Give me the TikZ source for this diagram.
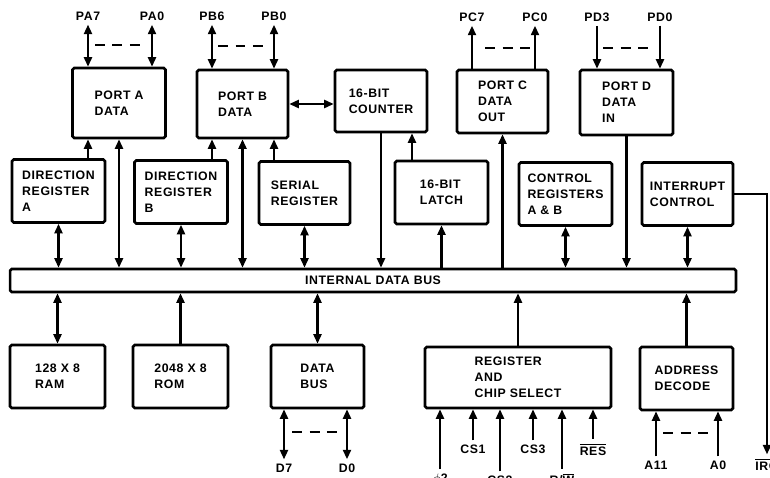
\documentclass[tikz,border=0pt]{standalone}
\usepackage{fontspec}
\usetikzlibrary{arrows.meta,calc}
\newfontfamily\blkfont{Liberation Sans}[LetterSpace=5]
\newcommand{\blkfnt}{\blkfont\bfseries\fontsize{7}{9}\selectfont}
\tikzset{
  >={Triangle[length=1.9mm,width=1.6mm]},
  blk/.style={draw, line width=1.5pt, rounded corners=1pt, align=left,
              minimum width=1.86cm, minimum height=1.26cm, inner sep=2pt, font=\blkfnt},
  busbar/.style={draw, line width=1.5pt, rounded corners=1pt, minimum width=14.52cm,
              minimum height=0.46cm, inner sep=0pt, font=\blkfnt},
  pinlbl/.style={inner sep=1pt, outer sep=1.5pt, font=\blkfnt},
  sig/.style={line width=1.25pt},
  dashgap/.style={line width=0.9pt, dash pattern=on 2mm off 1.5mm},
}

\begin{document}
\begin{tikzpicture}[x=0.02cm,y=-0.02cm]
  \fill[white] (0,0) rectangle (770,477);
  \useasboundingbox (0,0) rectangle (770,477);
  % ports across the top
  \node[blk, minimum height=1.40cm] (porta) at (119,103) {PORT A\\DATA};
  \node[blk, minimum width=1.82cm, minimum height=1.36cm] (portb) at (242.5,104) {PORT B\\DATA};
  \node[blk, minimum width=1.84cm, minimum height=1.24cm] (cnt) at (381,101) {16-BIT\\COUNTER};
  \node[blk, minimum width=1.82cm] (portc) at (502.5,101.5) {PORT C\\DATA\\OUT};
  \node[blk, minimum height=1.30cm] (portd) at (626.5,102.5) {PORT D\\DATA\\IN};
  % registers
  \node[blk] (dira) at (58.5,191) {DIRECTION\\REGISTER\\A};
  \node[blk] (dirb) at (181,192) {DIRECTION\\REGISTER\\B};
  \node[blk, minimum width=1.82cm] (ser) at (304.5,193) {SERIAL\\REGISTER};
  \node[blk] (latch) at (441.5,192.5) {16-BIT\\LATCH};
  \node[blk] (ctrl) at (565.5,194) {CONTROL\\REGISTERS\\A \& B};
  \node[blk, minimum width=1.82cm] (intr) at (687.5,194) {INTERRUPT\\CONTROL};
  % bus
  \node[busbar] (bus) at (373,280.5) {INTERNAL DATA BUS};
  % bottom row
  \node[blk, minimum width=1.9cm] (ram) at (57.5,376.5) {128 X 8\\RAM};
  \node[blk, minimum width=1.9cm] (rom) at (180.5,376.5) {2048 X 8\\ROM};
  \node[blk] (dbus) at (317.5,376.5) {DATA\\BUS};
  \node[blk, minimum width=3.72cm, minimum height=1.22cm] (rcs) at (518,377.5) {REGISTER\\AND\\CHIP SELECT};
  \node[blk] (adec) at (686.5,378.5) {ADDRESS\\DECODE};

  % port pins
  \foreach \n/\x/\t in {pa7/88/PA7, pa0/152/PA0}{
    \node[pinlbl] (\n) at (\x,16) {\t};
    \draw[sig,<->] (\n) -- (\n |- porta.north);
  }
  \foreach \n/\x/\t in {pb6/212/PB6, pb0/274/PB0}{
    \node[pinlbl] (\n) at (\x,16) {\t};
    \draw[sig,<->] (\n) -- (\n |- portb.north);
  }
  \foreach \n/\x/\t in {pc7/472/PC7, pc0/535/PC0}{
    \node[pinlbl] (\n) at (\x,17) {\t};
    \draw[sig,->] (\n |- portc.north) -- (\n);
  }
  \foreach \n/\x/\t in {pd3/597/PD3, pd0/660/PD0}{
    \node[pinlbl] (\n) at (\x,17) {\t};
    \draw[sig,->] (\n) -- (\n |- portd.north);
  }
  \draw[dashgap] (95,45) -- (140,45);
  \draw[dashgap] (218,46) -- (265,46);
  \draw[dashgap] (485,48) -- (530,48);
  \draw[dashgap] (603,48) -- (648,48);

  % registers to ports
  \draw[sig,->] (pa7 |- dira.north) -- (pa7 |- porta.south);
  \draw[sig,<->] (porta.south) -- (porta.south |- bus.north);
  \draw[sig,->] (pb6 |- dirb.north) -- (pb6 |- portb.south);
  \draw[sig,<->] (portb.south) -- (portb.south |- bus.north);
  \draw[sig,->] (pb0 |- ser.north) -- (pb0 |- portb.south);
  \draw[sig,<->] (portb.east) -- (portb.east -| cnt.west);
  \draw[sig,->] (cnt.south) -- (cnt.south |- bus.north);
  \coordinate (lt) at ([xshift=0.62cm]cnt.south);
  \draw[sig,->] (lt |- latch.north) -- (lt);
  \draw[sig,->] (latch.south |- bus.north) -- (latch.south);
  \draw[sig,->] (portc.south |- bus.north) -- (portc.south);
  \draw[sig,->] (portd.south) -- (portd.south |- bus.north);
  \foreach \b in {dira,dirb,ser,ctrl,intr}
    \draw[sig,<->] (\b.south) -- (\b.south |- bus.north);

  % interrupt line
  \node[pinlbl] (irq) at (767,466) {$\overline{\mbox{IRQ}}$};
  \draw[sig,->] (intr.east) -| (irq.north);

  % below the bus
  \draw[sig,<->] (ram.north) -- (ram.north |- bus.south);
  \draw[sig,->] (rom.north) -- (rom.north |- bus.south);
  \draw[sig,<->] (dbus.north) -- (dbus.north |- bus.south);
  \draw[sig,->] (rcs.north) -- (rcs.north |- bus.south);
  \draw[sig,->] (adec.north) -- (adec.north |- bus.south);

  \foreach \n/\x/\t in {d7/284/D7, d0/347/D0}{
    \node[pinlbl] (\n) at (\x,468) {\t};
    \draw[sig,<->] (\n) -- (\n |- dbus.south);
  }
  \draw[dashgap] (292,432) -- (337,432);

  % chip select inputs
  \foreach \n/\x/\y/\t in {phi/440/479/{$\phi$2}, csa/473/449/CS1, csb/500/480/CS2,
                           csc/533/449/CS3, rw/562/479/{R/$\overline{\mbox{W}}$},
                           res/593/449/{$\overline{\mbox{RES}}$}}{
    \node[pinlbl] (\n) at (\x,\y) {\t};
    \draw[sig,->] (\n) -- (\n |- rcs.south);
  }

  \foreach \n/\x/\t in {a11/656/A11, a0/718/A0}{
    \node[pinlbl] (\n) at (\x,465) {\t};
    \draw[sig,->] (\n) -- (\n |- adec.south);
  }
  \draw[dashgap] (663,433) -- (712,433);
\end{tikzpicture}
\end{document}
